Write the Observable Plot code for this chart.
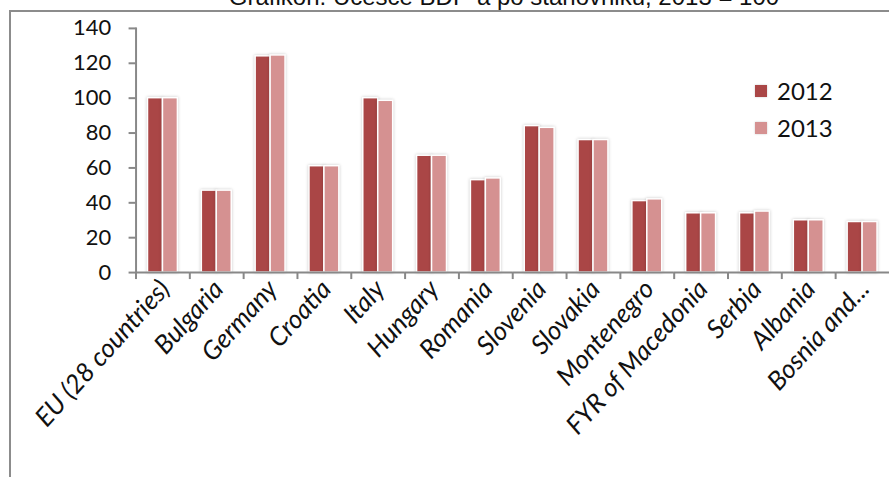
<!DOCTYPE html>
<html>
<head>
<meta charset="utf-8">
<script src="https://cdn.jsdelivr.net/npm/d3@7"></script>
<script src="https://cdn.jsdelivr.net/npm/@observablehq/plot@0.6"></script>
<style>
  html, body { margin: 0; padding: 0; background: #fff; overflow: hidden; width: 889px; height: 477px; }
  #wrap { position: relative; width: 889px; height: 477px; overflow: hidden; }
  #title { position: absolute; left: 0; width: 1008px; top: -16px; line-height: 26px; text-align: center; font-family: "Liberation Sans", Arial, sans-serif; font-size: 24px; color: #111; white-space: nowrap; }
  #border { position: absolute; left: 9px; top: 10px; right: -10px; bottom: -10px; border-left: 2px solid #8c8c8c; border-top: 2px solid #8c8c8c; }
  #chart { position: absolute; left: 0; top: 0; }
  #legend { position: absolute; left: 755px; top: 72px; font-family: Lato, sans-serif; font-size: 24px; color: #111; }
  .li { display: flex; align-items: center; height: 37px; }
  .sw { width: 12px; height: 12px; margin-right: 10px; box-shadow: 0 0 2px rgba(0,0,0,0.2); }
  svg g[aria-label="bar"] rect { filter: drop-shadow(0 0 1.5px rgba(0,0,0,0.22)); }
</style>
</head>
<body>
<div id="wrap">
  <div id="title">Grafikon: Učešće BDP-a po stanovniku, 2013 = 100</div>
  <div id="border"></div>
  <div id="chart"></div>
  <div id="legend"></div>
</div>
<script>
const countries = ["EU (28 countries)", "Bulgaria", "Germany", "Croatia", "Italy", "Hungary", "Romania", "Slovenia", "Slovakia", "Montenegro", "FYR of Macedonia", "Serbia", "Albania", "Bosnia and..."];
const years = ["2012", "2013"];
const values2012 = [100, 47, 124, 61, 100, 67, 53, 84, 76, 41, 34, 34, 30, 29];
const values2013 = [100, 47, 124.5, 61, 98.5, 67, 54, 83, 76, 42, 34, 35, 30, 29];
const yTicks = [0, 20, 40, 60, 80, 100, 120, 140];
const colors = ["#aa4646", "#d59191"];

const data = countries.flatMap((c, i) => [
  {country: c, year: years[0], value: values2012[i]},
  {country: c, year: years[1], value: values2013[i]}
]);

const W = 892, ML = 135;
const bw = (W - ML) / countries.length;
const font = "Lato, sans-serif";

const chart = Plot.plot({
  width: W,
  height: 477,
  marginLeft: ML,
  marginRight: 0,
  marginTop: 28,
  marginBottom: 204,
  style: {fontFamily: font, color: "#111", background: "transparent", overflow: "visible"},
  fx: {domain: countries, padding: 0, axis: null, label: null},
  x: {domain: years, paddingInner: 0, paddingOuter: 0.78, axis: null},
  y: {domain: [0, 140], axis: null},
  color: {domain: years, range: colors},
  marks: [
    Plot.barY(data, {fx: "country", x: "year", y: "value", fill: "year", stroke: "white", strokeWidth: 1.5}),
    Plot.ruleY([0], {stroke: "#888", strokeWidth: 2}),
    Plot.frame({anchor: "left", facetAnchor: "left", stroke: "#888", strokeWidth: 2}),
    Plot.axisY({ticks: yTicks, tickSize: 7, tickPadding: 18, fontSize: 22, stroke: "#888", strokeWidth: 2, fill: "#111", label: null}),
    Plot.axisFx({anchor: "bottom", tickSize: 7, tickFormat: () => "", dx: -bw / 2, stroke: "#888", strokeWidth: 2, label: null}),
    Plot.axisFx({anchor: "bottom", tickSize: 0, tickPadding: 12, dx: 2, tickRotate: -48, fontSize: 26, fontStyle: "italic", fill: "#111", label: null})
  ]
});
document.getElementById("chart").appendChild(chart);

const legend = document.getElementById("legend");
years.forEach((y, i) => {
  const row = document.createElement("div");
  row.className = "li";
  const sw = document.createElement("span");
  sw.className = "sw";
  sw.style.background = colors[i];
  const t = document.createElement("span");
  t.textContent = y;
  row.appendChild(sw);
  row.appendChild(t);
  legend.appendChild(row);
});
</script>
</body>
</html>
